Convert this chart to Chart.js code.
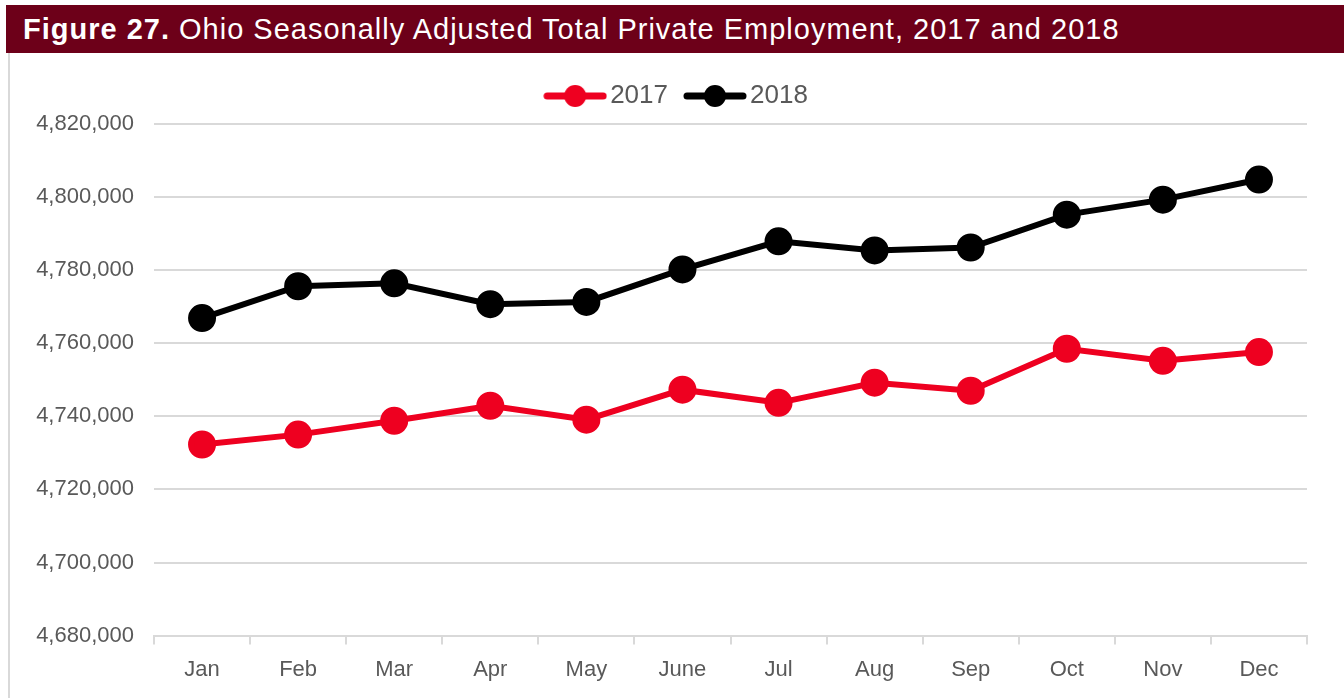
<!DOCTYPE html>
<html>
<head>
<meta charset="utf-8">
<script src="https://cdn.jsdelivr.net/npm/chart.js@4"></script>
<style>
  body { margin: 0; background: #fff; width: 1344px; height: 698px; overflow: hidden; font-family: "Liberation Sans", Arial, sans-serif; }
  #title { position: absolute; left: 6px; top: 5px; width: 1338px; height: 48px; background: #6d0019; color: #fff; font-size: 29px; letter-spacing: 1px; line-height: 49px; padding-left: 17px; box-sizing: border-box; white-space: nowrap; }
  #title b { font-weight: bold; }
  #box { position: absolute; left: 8px; top: 53px; width: 1336px; height: 645px; border-left: 2px solid #d9d9d9; box-sizing: border-box; }
  #wrap { position: absolute; left: 0; top: 0; width: 1334px; height: 645px; }
</style>
</head>
<body>
<div id="title"><b>Figure 27.</b> Ohio Seasonally Adjusted Total Private Employment, 2017 and 2018</div>
<div id="box"><div id="wrap"><canvas id="myChart"></canvas></div></div>
<script>
var months = ["Jan", "Feb", "Mar", "Apr", "May", "June", "Jul", "Aug", "Sep", "Oct", "Nov", "Dec"]
var values2017 = [4732300, 4735000, 4738800, 4742900, 4739100, 4747300, 4743700, 4749200, 4747000, 4758500, 4755200, 4757600]
var values2018 = [4766900, 4775600, 4776400, 4770700, 4771300, 4780200, 4787900, 4785400, 4786200, 4795200, 4799300, 4804800]
var yMin = 4680000
var yMax = 4820000
var yStep = 20000

// legend icon: line with a dot in the middle
function legendIcon(color){
    var c = document.createElement("canvas")
    c.width = 64
    c.height = 24
    var ctx = c.getContext("2d")
    ctx.strokeStyle = color
    ctx.lineWidth = 7
    ctx.lineCap = "round"
    ctx.beginPath()
    ctx.moveTo(4, 12)
    ctx.lineTo(60, 12)
    ctx.stroke()
    ctx.fillStyle = color
    ctx.beginPath()
    ctx.arc(32, 12, 11, 0, Math.PI * 2)
    ctx.fill()
    return c
}

// a bit more room under the legend, and legend nudged right like the original
var legendGap = {
    id: "legendGap",
    afterInit: function(chart){
        var fit = chart.legend.fit
        chart.legend.fit = function(){
            fit.call(this)
            this.height += 5
        }
    },
    afterLayout: function(chart){
        chart.legend.left += 22
        chart.legend.right += 22
    }
}

var red = "#ee0020"
var black = "#000000"
var font = "'Liberation Sans', Arial, sans-serif"

new Chart("myChart", {
    type: "line",
    data: {
      labels: months,
      datasets: [{
        label: "2017",
        data: values2017,
        borderColor: red,
        backgroundColor: red,
        borderWidth: 6,
        pointRadius: 11,
        pointHoverRadius: 11,
        tension: 0
      }, {
        label: "2018",
        data: values2018,
        borderColor: black,
        backgroundColor: black,
        borderWidth: 6,
        pointRadius: 11,
        pointHoverRadius: 11,
        tension: 0
      }]
    },
    plugins: [legendGap],
    options: {
      responsive: true,
      maintainAspectRatio: false,
      animation: false,
      layout: { padding: { left: 0, right: 37, top: 5, bottom: 3 } },
      plugins: {
        tooltip: { enabled: false },
        legend: {
          display: true,
          position: "top",
          labels: {
            usePointStyle: true,
            pointStyleWidth: 44,
            generateLabels: function(chart){
              return chart.data.datasets.map(function(ds, i){
                return {
                  text: ds.label,
                  pointStyle: legendIcon(ds.borderColor),
                  fontColor: "#595959",
                  lineWidth: 0,
                  strokeStyle: "transparent",
                  fillStyle: ds.borderColor,
                  datasetIndex: i
                }
              })
            },
            font: { family: font, size: 26 },
            color: "#595959",
            padding: 25,
            boxHeight: 24
          }
        }
      },
      scales: {
        x: {
          offset: true,
          grid: { display: true, drawOnChartArea: false, drawTicks: true, tickLength: 9, color: "#d9d9d9", lineWidth: 2, offset: true },
          border: { display: true, color: "#d9d9d9", width: 2 },
          ticks: { color: "#595959", font: { family: font, size: 22 }, padding: 12, maxRotation: 0 }
        },
        y: {
          min: yMin,
          max: yMax,
          grid: { color: "#d9d9d9", lineWidth: 2, drawTicks: false },
          border: { display: false },
          ticks: {
            stepSize: yStep,
            color: "#595959",
            font: { family: font, size: 22 },
            padding: 20,
            callback: function(v){ return v.toLocaleString("en-US") }
          },
          afterFit: function(scale){ scale.width = 144 }
        }
      }
    }
  });
</script>
</body>
</html>
